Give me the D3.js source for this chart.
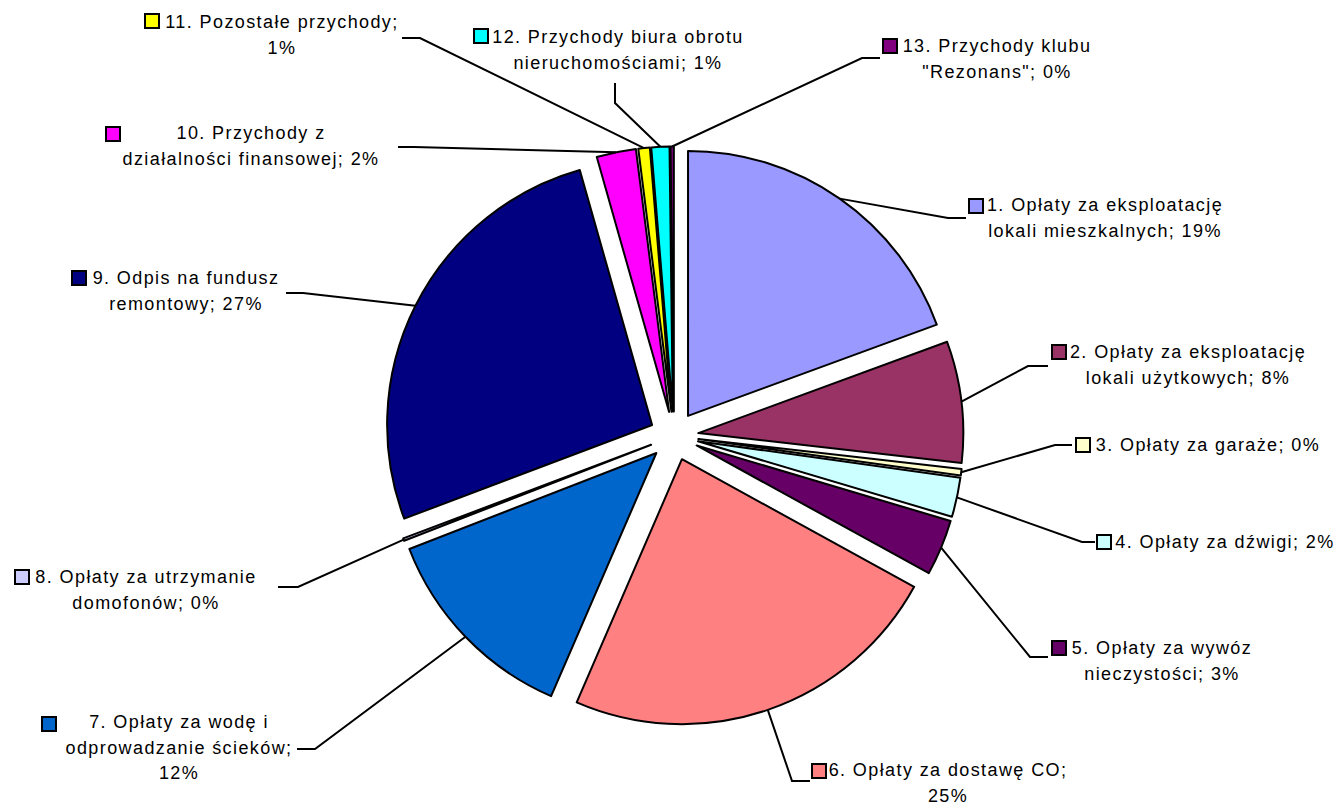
<!DOCTYPE html>
<html>
<head>
<meta charset="utf-8">
<script src="https://cdn.jsdelivr.net/npm/d3@7"></script>
<style>
  body { margin: 0; background: #fff; }
  svg { display: block; }
  .lbl { font-family: "Liberation Sans", Arial, sans-serif; font-size: 18px; letter-spacing: 1.4px; fill: #000; }
</style>
</head>
<body>
<script>
const width = 1339;
const height = 805;

// shares of each revenue item
const shares = [19.4, 7.4, 0.4, 2.4, 3.4, 23.5, 12.6, 0.15, 26.35, 2.4, 0.7, 1.1, 0.2];

const colors = ['#9999FF', '#993366', '#FFFFCC', '#CCFFFF', '#660066', '#FF8080', '#0066CC',
                '#CCCCFF', '#000080', '#FF00FF', '#FFFF00', '#00FFFF', '#800080'];

const labelLines = [
    ['1. Opłaty za eksploatację', 'lokali mieszkalnych; 19%'],
    ['2. Opłaty za eksploatację', 'lokali użytkowych; 8%'],
    ['3. Opłaty za garaże; 0%'],
    ['4. Opłaty za dźwigi; 2%'],
    ['5. Opłaty za wywóz', 'nieczystości; 3%'],
    ['6. Opłaty za dostawę CO;', '25%'],
    ['7. Opłaty za wodę i', 'odprowadzanie ścieków;', '12%'],
    ['8. Opłaty za utrzymanie', 'domofonów; 0%'],
    ['9. Odpis na fundusz', 'remontowy; 27%'],
    ['10. Przychody z', 'działalności finansowej; 2%'],
    ['11. Pozostałe przychody;', '1%'],
    ['12. Przychody biura obrotu', 'nieruchomościami; 1%'],
    ['13. Przychody klubu', '"Rezonans"; 0%']
];

// label placement: text centre, first line y, key corner, leader elbow and end
const labelLayout = [
    { cx: 1105, y: 205, kx: 969,  ky: 199, elbow: [948, 218],  end: [966, 218] },
    { cx: 1188, y: 352, kx: 1052, ky: 345, elbow: [1028, 366], end: [1048, 366] },
    { cx: 1208, y: 445, kx: 1076, ky: 438, elbow: [1055, 445], end: [1072, 445] },
    { cx: 1225, y: 542, kx: 1097, ky: 535, elbow: [1082, 542], end: [1095, 542] },
    { cx: 1162, y: 648, kx: 1052, ky: 641, elbow: [1030, 657], end: [1048, 657] },
    { cx: 948,  y: 770, kx: 812,  ky: 764, elbow: [792, 781],  end: [810, 781] },
    { cx: 179,  y: 722, kx: 42,   ky: 717, elbow: [315, 749],  end: [297, 749] },
    { cx: 146,  y: 577, kx: 15,   ky: 570, elbow: [298, 587],  end: [278, 587] },
    { cx: 186,  y: 278, kx: 72,   ky: 271, elbow: [303, 293],  end: [286, 293] },
    { cx: 251,  y: 133, kx: 106,  ky: 127, elbow: [414, 147],  end: [398, 147] },
    { cx: 282,  y: 22,  kx: 145,  ky: 14,  elbow: [420, 38],   end: [402, 38] },
    { cx: 618,  y: 37,  kx: 474,  ky: 29,  elbow: [615, 103],  end: [615, 83] },
    { cx: 997,  y: 46,  kx: 883,  ky: 39,  elbow: [862, 58],   end: [880, 58] }
];

const cx = 674, cy = 436;
const radius = 265;
const explode = 24.5;

const svg = d3.select('body').append('svg')
    .attr('width', width)
    .attr('height', height);

const arcs = d3.pie().sort(null).value(d => d)(shares);
arcs.forEach(a => {
    const m = (a.startAngle + a.endAngle) / 2;
    a.ox = cx + explode * Math.sin(m);
    a.oy = cy - explode * Math.cos(m);
    a.mx = a.ox + radius * Math.sin(m);
    a.my = a.oy - radius * Math.cos(m);
});

const arc = d3.arc().innerRadius(0).outerRadius(radius);

// slices, each pulled out along its bisector
svg.append('g')
    .selectAll('path')
    .data(arcs)
    .enter().append('path')
    .attr('transform', d => `translate(${d.ox},${d.oy})`)
    .attr('d', arc)
    .attr('fill', (d, i) => colors[i])
    .attr('stroke', '#000')
    .attr('stroke-width', 2)
    .attr('stroke-linejoin', 'round');

// leader lines
svg.append('g')
    .selectAll('path')
    .data(arcs)
    .enter().append('path')
    .attr('d', (d, i) => d3.line()([[d.mx, d.my], labelLayout[i].elbow, labelLayout[i].end]))
    .attr('fill', 'none')
    .attr('stroke', '#000')
    .attr('stroke-width', 2);

// labels with legend keys
const labels = svg.append('g')
    .selectAll('g')
    .data(labelLines)
    .enter().append('g');

labels.append('rect')
    .attr('x', (d, i) => labelLayout[i].kx)
    .attr('y', (d, i) => labelLayout[i].ky)
    .attr('width', 14)
    .attr('height', 14)
    .attr('fill', (d, i) => colors[i])
    .attr('stroke', '#000')
    .attr('stroke-width', 2);

labels.each(function(lines, i) {
    const L = labelLayout[i];
    d3.select(this).selectAll('text')
        .data(lines)
        .enter().append('text')
        .attr('class', 'lbl')
        .attr('x', L.cx)
        .attr('y', (t, j) => L.y + j * 25.5)
        .attr('dy', '0.35em')
        .attr('text-anchor', 'middle')
        .text(t => t);
});
</script>
</body>
</html>
